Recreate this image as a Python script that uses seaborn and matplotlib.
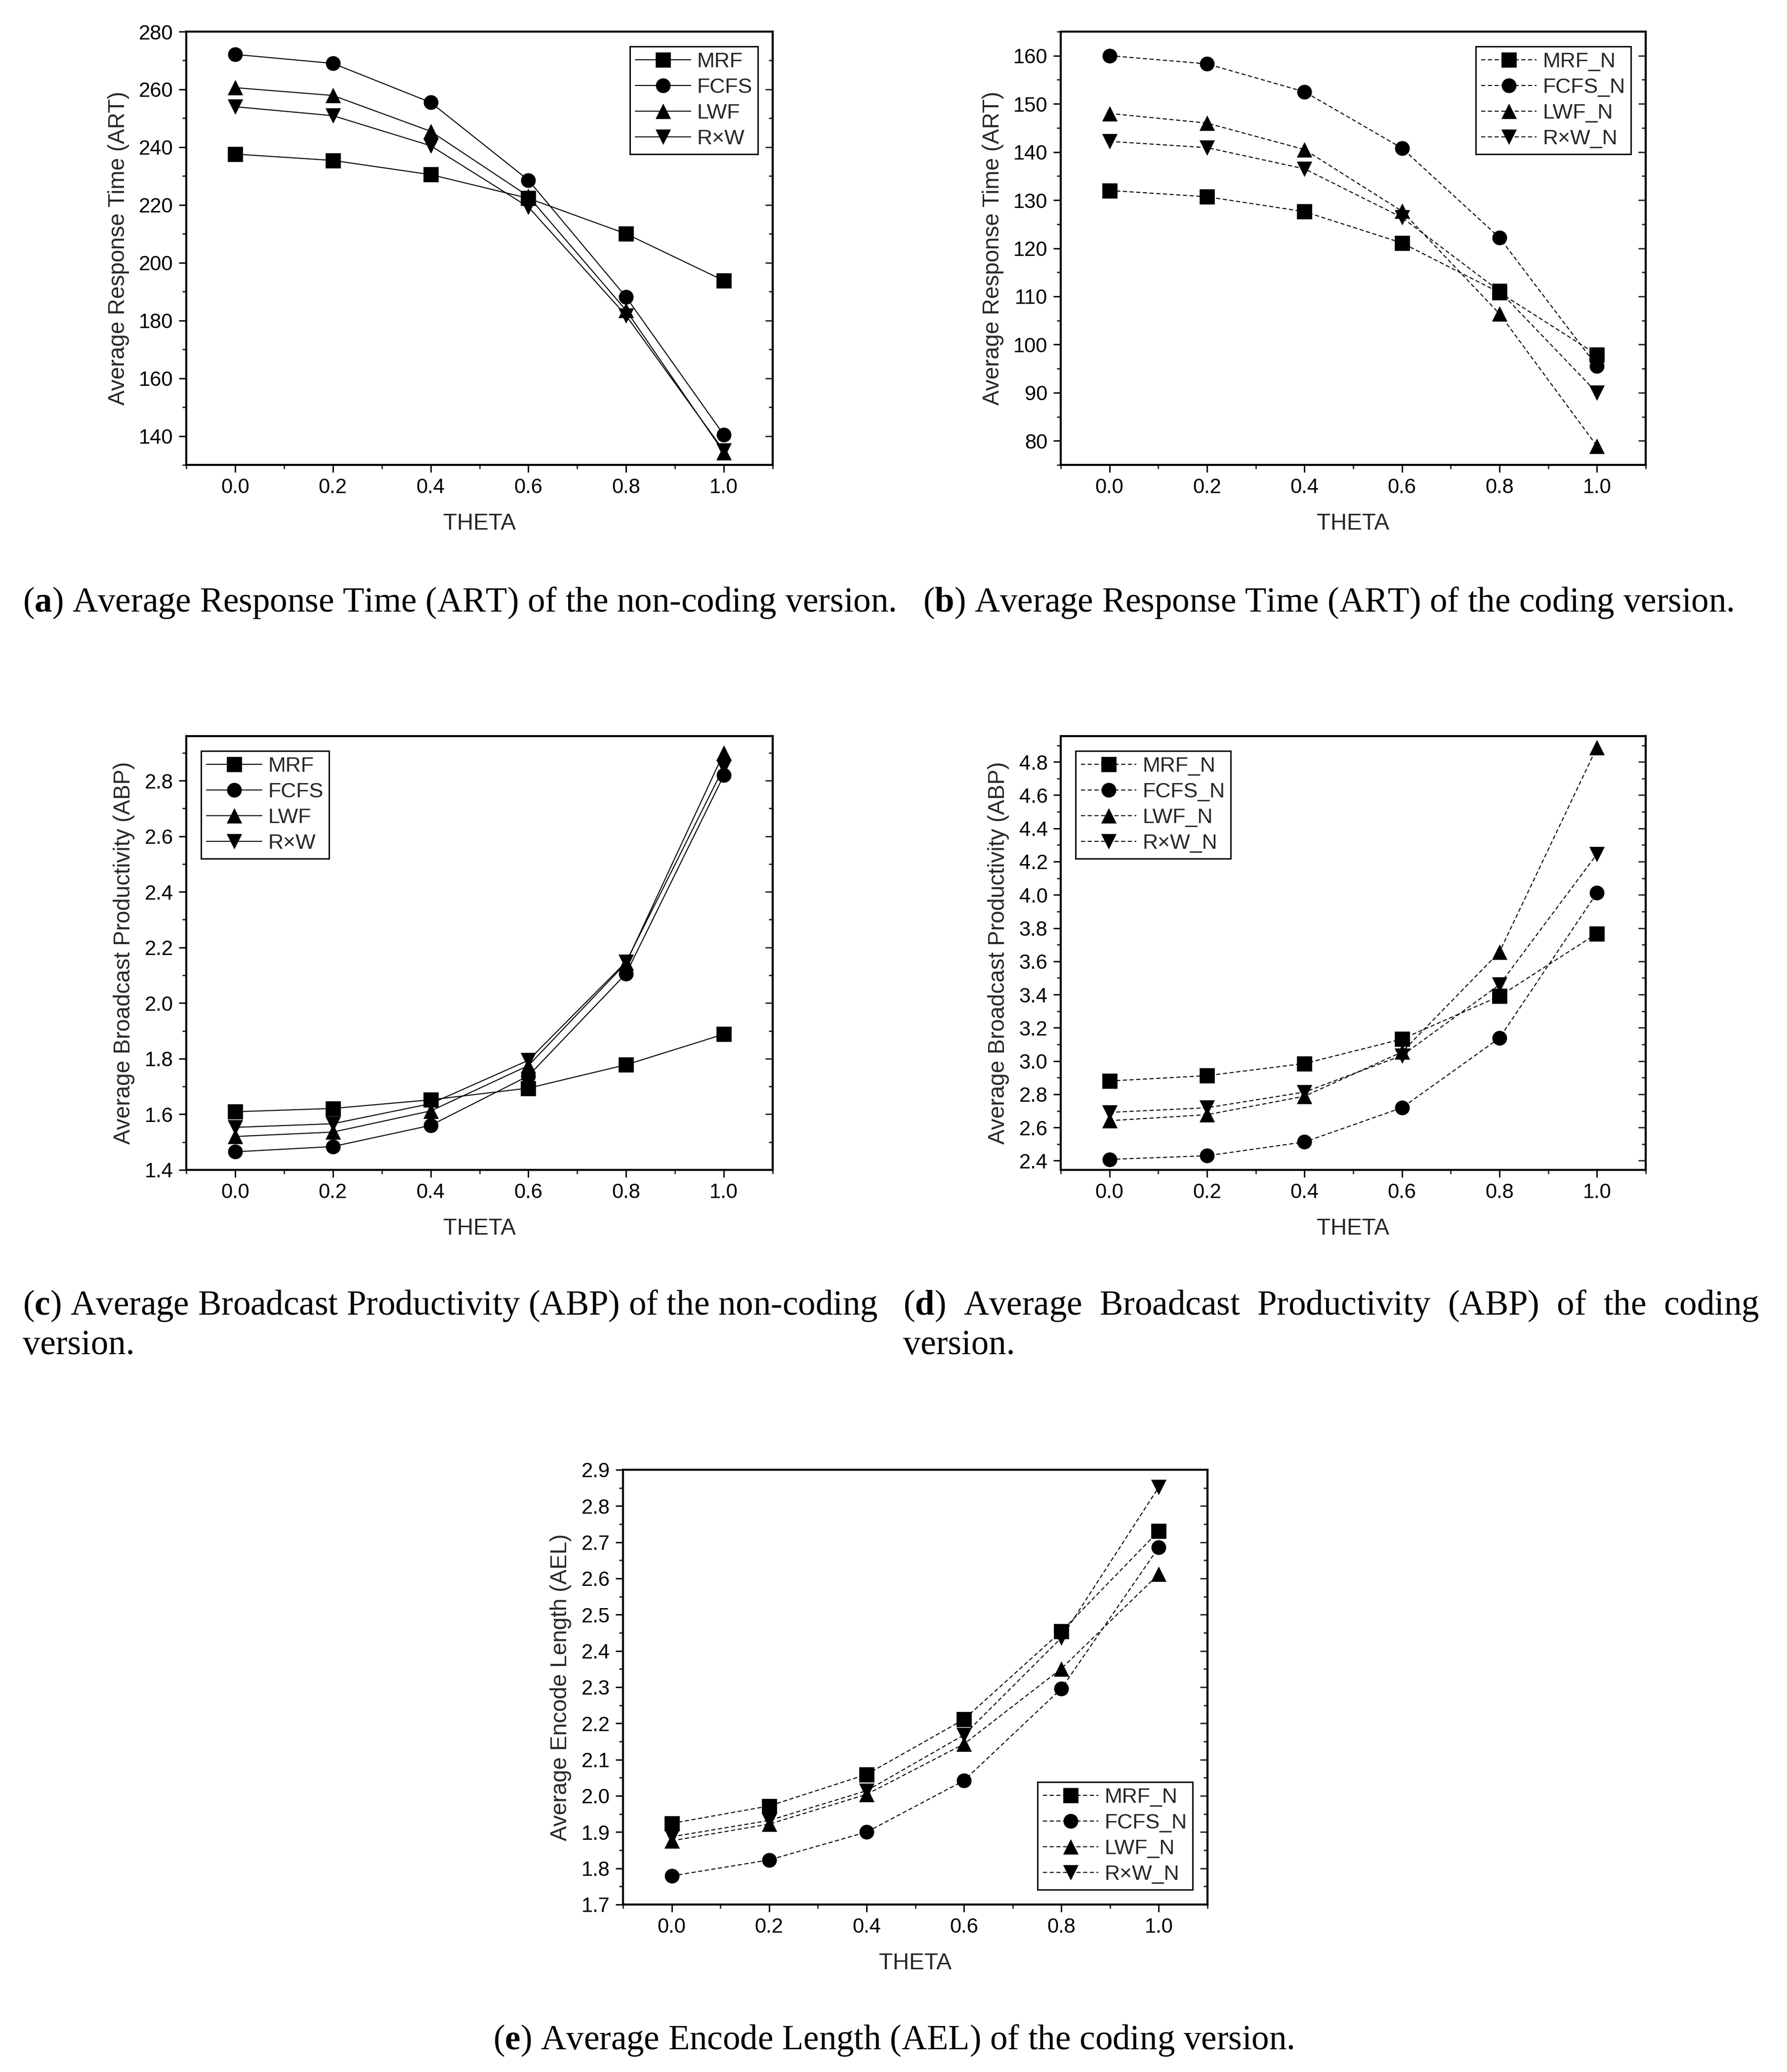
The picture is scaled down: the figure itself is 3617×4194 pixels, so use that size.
import numpy as np
import pandas as pd
import seaborn as sns
import matplotlib.pyplot as plt
from matplotlib.ticker import MultipleLocator, FormatStrFormatter

sns.set_theme(style="ticks")
plt.rcParams['font.family'] = ['Liberation Sans', 'DejaVu Sans']
plt.rcParams['mathtext.fontset'] = 'custom'
plt.rcParams['mathtext.rm'] = 'Liberation Serif'
plt.rcParams['mathtext.bf'] = 'Liberation Serif:bold'

# data
theta = [0.0, 0.2, 0.4, 0.6, 0.8, 1.0]
names_plain = ['MRF', 'FCFS', 'LWF', 'R×W']
names_coded = ['MRF_N', 'FCFS_N', 'LWF_N', 'R×W_N']

# (a) ART, non-coding
art_mrf = [237.6, 235.4, 230.5, 222.3, 210.0, 193.8]
art_fcfs = [272.1, 269.0, 255.5, 228.6, 188.1, 140.4]
art_lwf = [260.6, 257.9, 245.5, 223.0, 183.5, 134.3]
art_rxw = [254.0, 250.9, 240.5, 219.3, 181.7, 134.9]

# (b) ART, coding
artn_mrf = [132.0, 130.7, 127.6, 121.1, 110.8, 97.9]
artn_fcfs = [160.0, 158.3, 152.5, 140.8, 122.2, 95.5]
artn_lwf = [148.0, 146.0, 140.5, 127.7, 106.4, 78.9]
artn_rxw = [142.2, 140.9, 136.5, 126.4, 111.1, 90.0]

# (c) ABP, non-coding
abp_mrf = [1.609, 1.621, 1.652, 1.694, 1.778, 1.888]
abp_fcfs = [1.465, 1.484, 1.560, 1.738, 2.106, 2.819]
abp_lwf = [1.520, 1.536, 1.612, 1.775, 2.144, 2.900]
abp_rxw = [1.553, 1.566, 1.638, 1.794, 2.148, 2.848]

# (d) ABP, coding
abpn_mrf = [2.880, 2.912, 2.985, 3.132, 3.390, 3.767]
abpn_fcfs = [2.408, 2.430, 2.513, 2.719, 3.138, 4.012]
abpn_lwf = [2.641, 2.677, 2.788, 3.054, 3.656, 4.888]
abpn_rxw = [2.691, 2.719, 2.813, 3.033, 3.459, 4.245]

# (e) AEL, coding
ael_mrf = [1.924, 1.972, 2.059, 2.211, 2.454, 2.731]
ael_fcfs = [1.779, 1.823, 1.900, 2.042, 2.296, 2.686]
ael_lwf = [1.876, 1.922, 2.004, 2.143, 2.351, 2.612]
ael_rxw = [1.887, 1.932, 2.014, 2.168, 2.436, 2.852]


def make_frame(names, series):
    rows = []
    for name, vals in zip(names, series):
        for t, v in zip(theta, vals):
            rows.append({'THETA': t, 'value': v, 'series': name})
    return pd.DataFrame(rows)


def draw(ax, df, names, dashed, ylim, ymaj, ymin, fmt, ylabel, loc):
    sns.lineplot(data=df, x='THETA', y='value', style='series', style_order=names,
                 markers=['s', 'o', '^', 'v'],
                 dashes=[(4, 2.5)] * 4 if dashed else False,
                 color='black', linewidth=1.5, markersize=21,
                 markeredgecolor='black', markeredgewidth=0.5, ax=ax)
    ax.set_xlim(-0.1, 1.1)
    ax.set_ylim(*ylim)
    ax.xaxis.set_major_locator(MultipleLocator(0.2))
    ax.xaxis.set_minor_locator(MultipleLocator(0.1))
    ax.xaxis.set_major_formatter(FormatStrFormatter('%.1f'))
    ax.yaxis.set_major_locator(MultipleLocator(ymaj))
    ax.yaxis.set_minor_locator(MultipleLocator(ymin))
    ax.yaxis.set_major_formatter(FormatStrFormatter(fmt))
    ax.tick_params(which='major', length=11, width=2, labelsize=30, pad=8, colors='black')
    ax.tick_params(which='minor', length=6, width=2)
    for s in ax.spines.values():
        s.set_linewidth(3)
        s.set_color('black')
    sec = ax.secondary_yaxis('right')
    sec.yaxis.set_major_locator(MultipleLocator(ymaj))
    sec.yaxis.set_minor_locator(MultipleLocator(ymin))
    sec.tick_params(which='major', direction='in', length=11, width=2, labelright=False)
    sec.tick_params(which='minor', direction='in', length=6, width=2)
    sec.spines['right'].set_linewidth(3)
    ax.set_xlabel('THETA', fontsize=33, labelpad=22)
    ax.set_ylabel(ylabel, fontsize=33, labelpad=14)
    handles, labels = ax.get_legend_handles_labels()
    leg = ax.legend(handles, labels, loc=loc, fontsize=31, frameon=True, fancybox=False,
                    edgecolor='black', framealpha=1, handlelength=2.6, handletextpad=0.3,
                    labelspacing=0.28, borderpad=0.25, borderaxespad=0.7)
    leg.get_frame().set_linewidth(2)


fig = plt.figure(figsize=(36.17, 41.94), dpi=100)
W, H = 3617, 4194


def add_axes(left, top, right, bottom):
    return fig.add_axes([left / W, 1 - bottom / H, (right - left) / W, (bottom - top) / H])


ax_a = add_axes(377, 64, 1564, 941)
ax_b = add_axes(2147, 64, 3331, 941)
ax_c = add_axes(377, 1490, 1564, 2368)
ax_d = add_axes(2147, 1490, 3331, 2368)
ax_e = add_axes(1261, 2975, 2444, 3855)

draw(ax_a, make_frame(names_plain, [art_mrf, art_fcfs, art_lwf, art_rxw]), names_plain,
     False, (130, 280), 20, 10, '%d', 'Average Response Time (ART)', 'upper right')
draw(ax_b, make_frame(names_coded, [artn_mrf, artn_fcfs, artn_lwf, artn_rxw]), names_coded,
     True, (75, 165), 10, 5, '%d', 'Average Response Time (ART)', 'upper right')
draw(ax_c, make_frame(names_plain, [abp_mrf, abp_fcfs, abp_lwf, abp_rxw]), names_plain,
     False, (1.4, 2.96), 0.2, 0.1, '%.1f', 'Average Broadcast Productivity (ABP)', 'upper left')
draw(ax_d, make_frame(names_coded, [abpn_mrf, abpn_fcfs, abpn_lwf, abpn_rxw]), names_coded,
     True, (2.345, 4.955), 0.2, 0.1, '%.1f', 'Average Broadcast Productivity (ABP)', 'upper left')
draw(ax_e, make_frame(names_coded, [ael_mrf, ael_fcfs, ael_lwf, ael_rxw]), names_coded,
     True, (1.7, 2.9), 0.1, 0.05, '%.1f', 'Average Encode Length (AEL)', 'lower right')

cap = dict(fontsize=51, family=['Liberation Serif', 'DejaVu Serif'], va='center', color='black')
fig.text(46 / W, 1 - 1220 / H, r'($\mathbf{a}$) Average Response Time (ART) of the non-coding version.', **cap)
fig.text(1868 / W, 1 - 1220 / H, r'($\mathbf{b}$) Average Response Time (ART) of the coding version.', **cap)
fig.text(46 / W, 1 - 2643 / H, r'($\mathbf{c}$) Average Broadcast Productivity (ABP) of the non-coding', **cap)
fig.text(46 / W, 1 - 2723 / H, 'version.', **cap)
fig.text(1828 / W, 1 - 2643 / H, r'($\mathbf{d}$)  Average  Broadcast  Productivity  (ABP)  of  the  coding', **cap)
fig.text(1828 / W, 1 - 2723 / H, 'version.', **cap)
fig.text(0.5, 1 - 4130 / H, r'($\mathbf{e}$) Average Encode Length (AEL) of the coding version.', ha='center', **cap)

fig.savefig('out.png', dpi=100, facecolor='white')
